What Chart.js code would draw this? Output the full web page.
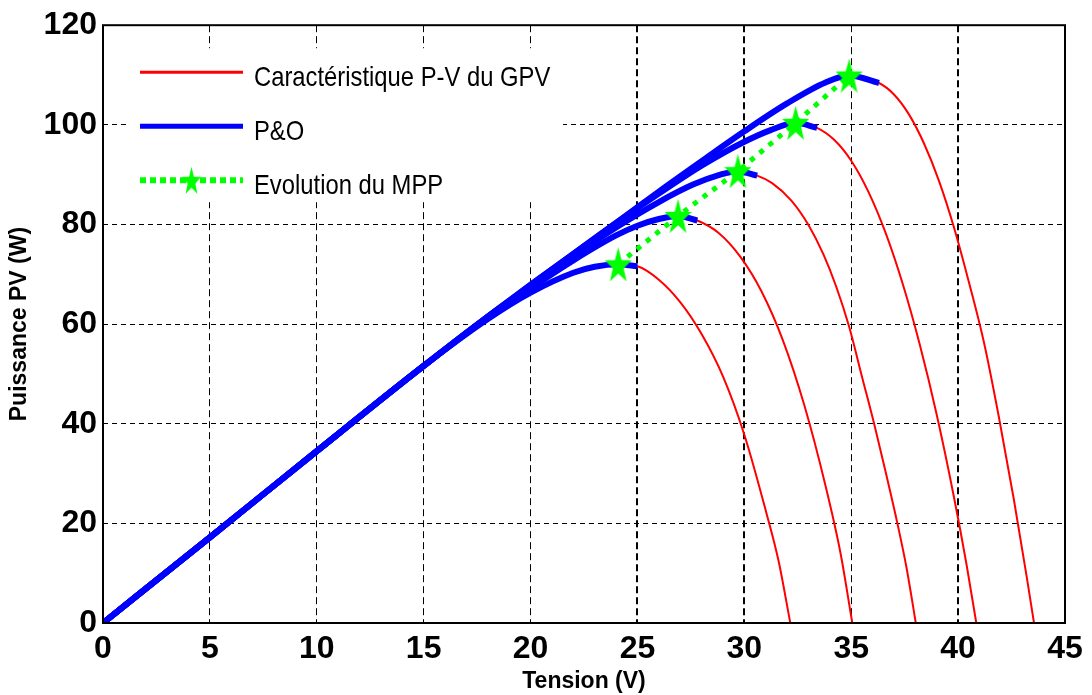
<!DOCTYPE html>
<html>
<head>
<meta charset="utf-8">
<script src="https://cdn.jsdelivr.net/npm/chart.js@4"></script>
<style>
  html, body { margin: 0; padding: 0; background: #fff; }
  #wrap { width: 1092px; height: 695px; }
</style>
</head>
<body>
<div id="wrap"><canvas id="pvChart"></canvas></div>
<script>
// P-V characteristic of the GPV, one curve per condition (V in volts, P in watts)
const v1 = [0, 5, 10, 15, 18, 20, 22, 23, 24.1, 25, 26, 27, 28, 29, 30, 31, 31.6, 32.15];
const p1 = [0, 17.2, 34.5, 51.6, 61.0, 66.3, 70.3, 71.5, 72.0, 71.6, 68.9, 64.4, 58.0, 49.5, 37.8, 22.6, 12.5, 0];

const v2 = [0, 5, 10, 15, 18, 20, 22, 24, 25, 26, 26.9, 27.8, 28.8, 29.8, 30.8, 31.8, 32.8, 33.8, 34.5, 35.05];
const p2 = [0, 17.2, 34.5, 51.6, 61.4, 67.2, 72.8, 77.8, 79.75, 81.1, 81.7, 80.8, 78.3, 73.6, 66.6, 56.8, 43.8, 27.5, 14.0, 0];

const v3 = [0, 5, 10, 15, 18, 20, 22, 24, 26, 27.6, 28.8, 29.7, 30.6, 31.3, 32.2, 33, 33.7, 34.3, 34.9, 35.5, 36.1, 36.6, 37.17, 37.6, 38.02];
const p3 = [0, 17.2, 34.5, 51.6, 61.5, 67.6, 73.7, 79.4, 84.5, 88.0, 89.9, 90.7, 89.8, 88.3, 84.8, 79.9, 74.0, 67.5, 59.5, 49.5, 39.5, 30.5, 19.8, 10.8, 0];

const v4 = [0, 5, 10, 15, 18, 20, 22, 24, 26, 28, 30, 31.2, 32.4, 33.4, 34.2, 35, 35.8, 36.6, 37.4, 38.2, 39, 39.8, 40.4, 40.85];
const p4 = [0, 17.2, 34.5, 51.6, 61.5, 67.8, 74.1, 80.3, 86.2, 91.8, 96.6, 98.9, 100.4, 99.4, 97.0, 92.8, 86.6, 78.4, 68.2, 56.0, 41.8, 25.4, 11.6, 0];

const v5 = [0, 5, 10, 15, 18, 20, 22, 24, 26, 28, 30, 32, 33.8, 34.9, 36.3, 37, 37.7, 38.4, 39.1, 39.8, 40.5, 41.2, 41.9, 42.6, 43.2, 43.55];
const p5 = [0, 17.2, 34.5, 51.6, 61.5, 67.9, 74.1, 80.3, 86.6, 92.7, 98.7, 104.3, 108.5, 109.9, 108.4, 106.1, 102.1, 96.3, 88.8, 79.5, 68.5, 56.5, 41.5, 25.0, 9.5, 0];

// voltage where the P&O trace stops on each curve
const poEndV = [25.0, 27.8, 30.6, 33.4, 36.3];

// maximum power points found
const mppV = [24.1, 26.9, 29.7, 32.4, 34.9];
const mppP = [72.0, 81.7, 90.7, 100.4, 109.9];

const legendLabels = ['Caractéristique P-V du GPV', 'P&O', 'Evolution du MPP'];

const RED = '#ff0000';
const BLUE = '#0000ff';
const GREEN = '#00ff00';
const FONT = '"Liberation Sans", Arial, sans-serif';

function toPoints(v, p) {
    return v.map((x, i) => ({ x: x, y: p[i] }));
}

// filled pentagram used as the MPP marker
function makeStar(w, h) {
    const c = document.createElement('canvas');
    c.width = w;
    c.height = h;
    const g = c.getContext('2d');
    const sx = w / 1.902, sy = h / 1.809;
    g.translate(w / 2, sy);
    g.beginPath();
    for (let k = 0; k < 10; k++) {
        const r = k % 2 === 0 ? 1 : 0.40;
        const a = -Math.PI / 2 + k * Math.PI / 5;
        g.lineTo(Math.cos(a) * r * sx, Math.sin(a) * r * sy);
    }
    g.closePath();
    g.fillStyle = GREEN;
    g.fill();
    return c;
}

const starBig = makeStar(27, 34);
const starSmall = makeStar(19, 27);

const curves = [[v1, p1], [v2, p2], [v3, p3], [v4, p4], [v5, p5]];

const datasets = [];

// MPP evolution, drawn on top
datasets.push({
    data: toPoints(mppV, mppP),
    borderColor: GREEN,
    backgroundColor: GREEN,
    borderWidth: 5,
    borderDash: [5, 7],
    pointStyle: starBig,
    pointRadius: 13,
    tension: 0,
    order: 0
});

// P&O traces follow each curve up to poEndV
curves.forEach((c, i) => {
    const pts = toPoints(c[0], c[1]).filter(pt => pt.x <= poEndV[i]);
    datasets.push({
        data: pts,
        borderColor: BLUE,
        borderWidth: 6,
        pointRadius: 0,
        cubicInterpolationMode: 'monotone',
        order: 1
    });
});

// full P-V characteristics underneath
curves.forEach(c => {
    datasets.push({
        data: toPoints(c[0], c[1]),
        borderColor: RED,
        borderWidth: 2,
        pointRadius: 0,
        cubicInterpolationMode: 'monotone',
        order: 2
    });
});

// box round the plot + legend panel drawn like MATLAB's
const matlabFrame = {
    id: 'matlabFrame',
    beforeDatasetsDraw(chart) {
        const a = chart.chartArea;
        const ctx = chart.ctx;
        ctx.save();
        ctx.fillStyle = '#fff';
        ctx.fillRect(a.left + 24, a.top + 23, 436, 154);
        ctx.restore();
    },
    afterDatasetsDraw(chart) {
        const a = chart.chartArea;
        const ctx = chart.ctx;
        ctx.save();

        // legend
        const x0 = a.left + 37, x1 = a.left + 140;
        const rows = [a.top + 47, a.top + 101, a.top + 155];

        ctx.strokeStyle = RED;
        ctx.lineWidth = 3;
        ctx.beginPath(); ctx.moveTo(x0, rows[0]); ctx.lineTo(x1, rows[0]); ctx.stroke();

        ctx.strokeStyle = BLUE;
        ctx.lineWidth = 5;
        ctx.beginPath(); ctx.moveTo(x0, rows[1]); ctx.lineTo(x1, rows[1]); ctx.stroke();

        ctx.strokeStyle = GREEN;
        ctx.lineWidth = 6;
        ctx.setLineDash([6, 4]);
        ctx.beginPath(); ctx.moveTo(x0, rows[2]); ctx.lineTo(x1, rows[2]); ctx.stroke();
        ctx.setLineDash([]);
        ctx.drawImage(starSmall, (x0 + x1) / 2 - starSmall.width / 2, rows[2] - starSmall.height / 2);

        ctx.fillStyle = '#000';
        ctx.font = '28px ' + FONT;
        ctx.textBaseline = 'alphabetic';
        legendLabels.forEach((txt, i) => {
            ctx.save();
            ctx.translate(a.left + 151, rows[i] + 14);
            ctx.scale(0.85, 1);
            ctx.fillText(txt, 0, 0);
            ctx.restore();
        });

        // axes box
        ctx.strokeStyle = '#000';
        ctx.lineWidth = 2;
        ctx.strokeRect(a.left, a.top, a.right - a.left, a.bottom - a.top);
        ctx.restore();
    }
};

const ctx = document.getElementById('pvChart').getContext('2d');
const myChart = new Chart(ctx, {
    type: 'line',
    data: { datasets: datasets },
    plugins: [matlabFrame],
    options: {
        responsive: true,
        maintainAspectRatio: false,
        animation: false,
        events: [],
        layout: { padding: { top: 22, right: 27, left: 0, bottom: 0 } },
        plugins: {
            legend: { display: false },
            tooltip: { enabled: false }
        },
        scales: {
            x: {
                type: 'linear',
                min: 0,
                max: 45,
                afterFit: scale => { scale.height = 72; },
                ticks: {
                    stepSize: 5,
                    padding: 7,
                    color: '#000',
                    font: { family: FONT, size: 32, weight: 'bold' }
                },
                grid: {
                    color: '#000',
                    drawTicks: false,
                    lineWidth: c => ([25, 30, 40].includes(c.tick && c.tick.value) ? 2 : 1)
                },
                border: { display: false, dash: [7, 4] },
                title: {
                    display: true,
                    text: 'Tension (V)',
                    color: '#000',
                    padding: { top: 0, bottom: 0 },
                    font: { family: FONT, size: 23, weight: 'bold' }
                }
            },
            y: {
                type: 'linear',
                min: 0,
                max: 120,
                afterFit: scale => { scale.width = 103; },
                ticks: {
                    stepSize: 20,
                    padding: 6,
                    color: '#000',
                    font: { family: FONT, size: 32, weight: 'bold' }
                },
                grid: { color: '#000', lineWidth: 1, drawTicks: false },
                border: { display: false, dash: [5, 4] },
                title: {
                    display: true,
                    text: 'Puissance PV (W)',
                    color: '#000',
                    padding: { top: 6, bottom: 0 },
                    font: { family: FONT, size: 23, weight: 'bold' }
                }
            }
        }
    }
});
</script>
</body>
</html>
